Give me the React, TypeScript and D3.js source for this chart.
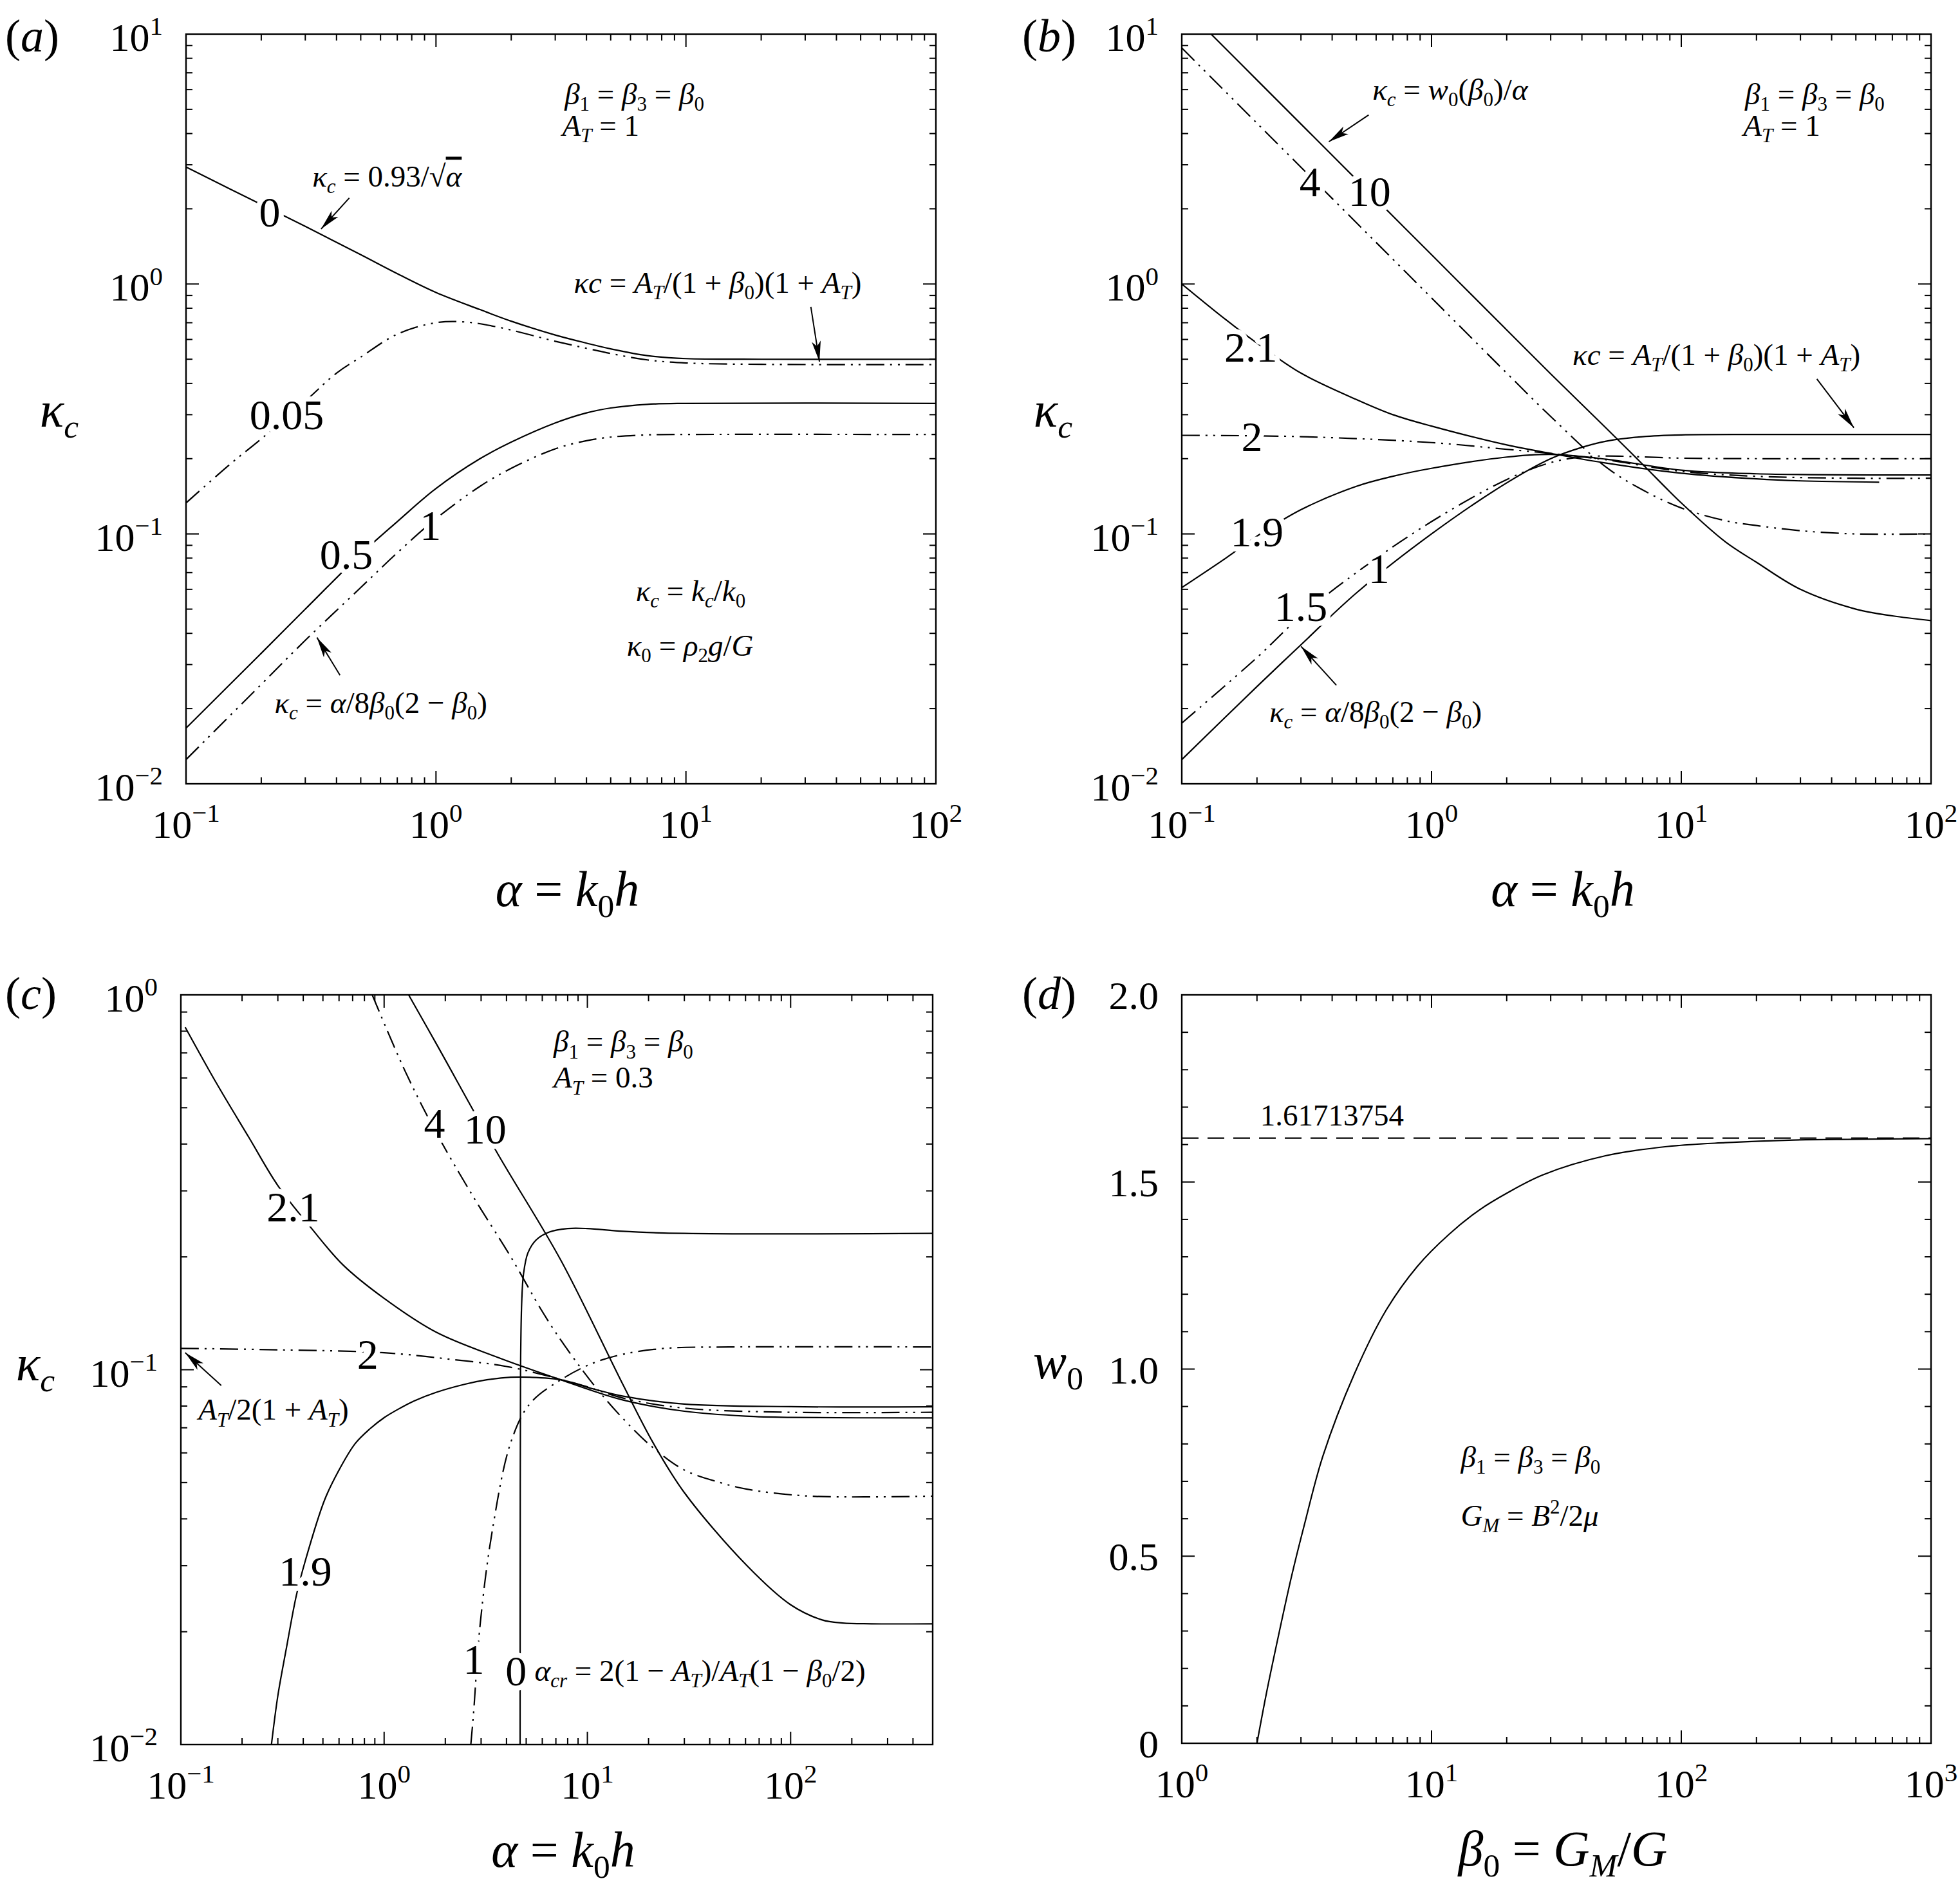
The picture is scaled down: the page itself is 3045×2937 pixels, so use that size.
import React from "react";
import * as d3 from "d3";

// ---------- values ----------

// (a) A_T = 1
const aAlphaB0 = [0.1, 0.15, 0.2, 0.3, 0.5, 0.7, 1, 1.5, 2, 3, 4, 5, 7, 10, 20, 100];
const aKappaB0 = [2.94, 2.4, 2.08, 1.7, 1.31, 1.1, 0.925, 0.79, 0.71, 0.625, 0.58, 0.55, 0.517, 0.503, 0.5, 0.5];
const aAlphaB005 = [0.1, 0.15, 0.2, 0.3, 0.4, 0.5, 0.7, 1, 1.3, 1.8, 3, 4, 5, 7, 10, 20, 100];
const aKappaB005 = [0.133, 0.19, 0.24, 0.34, 0.44, 0.51, 0.63, 0.7, 0.705, 0.67, 0.59, 0.553, 0.527, 0.497, 0.483, 0.477, 0.476];
const aAlphaB05 = [0.1, 0.2, 0.3, 0.5, 0.7, 1, 1.5, 2, 3, 4, 5, 7, 10, 100];
const aKappaB05 = [0.0167, 0.0333, 0.05, 0.083, 0.112, 0.152, 0.2, 0.233, 0.278, 0.305, 0.319, 0.33, 0.333, 0.333];
const aAlphaB1 = [0.1, 0.2, 0.3, 0.5, 0.7, 1, 1.5, 2, 3, 4, 5, 7, 10, 100];
const aKappaB1 = [0.0125, 0.025, 0.0375, 0.061, 0.084, 0.115, 0.155, 0.183, 0.219, 0.236, 0.244, 0.249, 0.25, 0.25];

// (b) A_T = 1
const bAlphaB10 = [0.131, 0.2, 0.5, 1, 2, 3, 5, 7, 10, 15, 20, 30, 50, 70, 100];
const bKappaB10 = [10, 6.55, 2.62, 1.31, 0.655, 0.437, 0.265, 0.19, 0.133, 0.093, 0.077, 0.06, 0.05, 0.047, 0.045];
const bAlphaB4 = [0.1, 0.2, 0.5, 1, 2, 3, 5, 7, 10, 15, 20, 30, 50, 100];
const bKappaB4 = [8.8, 4.4, 1.76, 0.88, 0.44, 0.295, 0.185, 0.15, 0.127, 0.113, 0.108, 0.103, 0.1, 0.1];
const bAlphaB21 = [0.1, 0.15, 0.2, 0.3, 0.5, 0.7, 1, 2, 3, 5, 10, 20, 30, 62];
const bKappaB21 = [1.0, 0.72, 0.58, 0.44, 0.345, 0.3, 0.27, 0.227, 0.21, 0.192, 0.175, 0.166, 0.163, 0.161];
const bAlphaB2 = [0.1, 0.3, 1, 2, 3, 5, 10, 20, 50, 100];
const bKappaB2 = [0.248, 0.245, 0.232, 0.218, 0.21, 0.198, 0.178, 0.17, 0.167, 0.167];
const bAlphaB19 = [0.1, 0.15, 0.2, 0.3, 0.5, 0.7, 1, 2, 3, 5, 10, 20, 100];
const bKappaB19 = [0.061, 0.08, 0.098, 0.125, 0.155, 0.17, 0.183, 0.203, 0.208, 0.199, 0.18, 0.174, 0.172];
const bAlphaB15 = [0.1, 0.2, 0.3, 0.5, 1, 2, 3, 4, 5, 10, 20, 100];
const bKappaB15 = [0.0175, 0.032, 0.047, 0.07, 0.112, 0.165, 0.193, 0.203, 0.205, 0.201, 0.2, 0.2];
const bAlphaB1 = [0.1, 0.2, 0.3, 0.5, 1, 2, 3, 4, 5, 7, 10, 20, 100];
const bKappaB1 = [0.0125, 0.0245, 0.036, 0.058, 0.1, 0.16, 0.2, 0.222, 0.235, 0.245, 0.249, 0.25, 0.25];

// (c) A_T = 0.3
const cAlphaB10 = [1.32, 1.8, 3.6, 7.4, 15, 21, 30, 61, 100, 143, 180, 250, 500];
const cKappaB10 = [1.0, 0.743, 0.379, 0.196, 0.091, 0.064, 0.047, 0.03, 0.0236, 0.0215, 0.0211, 0.021, 0.021];
const cAlphaB4 = [0.874, 1.27, 1.8, 2.75, 4.2, 6, 7.4, 10.6, 15, 21, 30, 45, 61, 124, 500];
const cKappaB4 = [1.0, 0.625, 0.43, 0.289, 0.2, 0.143, 0.12, 0.092, 0.074, 0.062, 0.054, 0.05, 0.048, 0.046, 0.046];
const cAlphaB21 = [0.105, 0.15, 0.217, 0.3, 0.44, 0.63, 1, 1.8, 3.6, 7.4, 15, 30, 60, 100, 500];
const cKappaB21 = [0.82, 0.58, 0.415, 0.31, 0.238, 0.19, 0.155, 0.126, 0.108, 0.094, 0.083, 0.0775, 0.0752, 0.0746, 0.0744];
const cAlphaB2 = [0.1, 0.3, 1, 2, 4, 7, 10, 15, 30, 100, 500];
const cKappaB2 = [0.114, 0.113, 0.111, 0.107, 0.102, 0.095, 0.09, 0.084, 0.079, 0.077, 0.077];
const cAlphaB19 = [0.279, 0.3, 0.33, 0.37, 0.41, 0.51, 0.6, 0.72, 0.85, 1, 1.2, 1.4, 1.8, 2.5, 3.2, 4.2, 5.2, 7.4, 10.6, 15, 30, 100, 500];
const cKappaB19 = [0.01, 0.0135, 0.018, 0.025, 0.031, 0.045, 0.054, 0.0635, 0.0695, 0.0745, 0.079, 0.0825, 0.087, 0.0915, 0.094, 0.0955, 0.0955, 0.094, 0.089, 0.085, 0.081, 0.0797, 0.0796];
const cAlphaB1 = [2.67, 2.75, 2.97, 3.4, 4.2, 5.2, 7.4, 10.6, 15, 24, 50, 500];
const cKappaB1 = [0.01, 0.012, 0.021, 0.037, 0.064, 0.081, 0.094, 0.104, 0.11, 0.114, 0.115, 0.115];
const cAlphaB0 = [4.667, 4.675, 4.69, 4.75, 4.85, 5.1, 5.6, 6.5, 8, 10, 15, 30, 500];
const cKappaB0 = [0.01, 0.05, 0.1, 0.15, 0.18, 0.205, 0.222, 0.233, 0.238, 0.238, 0.234, 0.231, 0.231];

// (d) w0 against beta0
const dBeta = [2, 2.184, 2.452, 2.753, 3.091, 3.675, 4.91, 6.56, 8.76, 11.7, 15.6, 20, 27.9, 49.7, 88.6, 150, 282, 500, 1000];
const dW0 = [0, 0.135, 0.295, 0.447, 0.582, 0.768, 0.987, 1.156, 1.274, 1.359, 1.426, 1.47, 1.519, 1.57, 1.595, 1.605, 1.612, 1.614, 1.616];
const W0_LIMIT = 1.61713754;

// ticks
const abXTicks = [0.1, 1, 10, 100];
const abXLabels = ["10^{−1}", "10^{0}", "10^{1}", "10^{2}"];
const abYTicks = [0.01, 0.1, 1, 10];
const abYLabels = ["10^{−2}", "10^{−1}", "10^{0}", "10^{1}"];
const cXTicks = [0.1, 1, 10, 100];
const cXLabels = ["10^{−1}", "10^{0}", "10^{1}", "10^{2}"];
const cYTicks = [0.01, 0.1, 1];
const cYLabels = ["10^{−2}", "10^{−1}", "10^{0}"];
const dXTicks = [1, 10, 100, 1000];
const dXLabels = ["10^{0}", "10^{1}", "10^{2}", "10^{3}"];
const dYTicks = [0, 0.5, 1, 1.5, 2];
const dYLabels = ["0", "0.5", "1.0", "1.5", "2.0"];

// ---------- drawing ----------

const FONT = '"Liberation Serif", "DejaVu Serif", serif';
const DDOT = "28,9,3,9,3,9";
const TICK_FS = 62;
const LABEL_FS = 66;
const NOTE_FS = 47;
const TITLE_FS = 78;

type Tok = { t: string; it: boolean; sh: number; ov: boolean };

// tiny markup: _x / _{..} subscript, ^x / ^{..} superscript, !x overline
function parseMath(s: string): Tok[] {
  const out: Tok[] = [];
  const push = (ch: string, sh: number, ov: boolean) => {
    const it = /[A-Za-z\u0370-\u03ff]/.test(ch);
    const last = out[out.length - 1];
    if (last && last.it === it && last.sh === sh && last.ov === ov) last.t += ch;
    else out.push({ t: ch, it, sh, ov });
  };
  let i = 0;
  while (i < s.length) {
    const c = s[i];
    if (c === "_" || c === "^" || c === "!") {
      const sh = c === "_" ? 1 : c === "^" ? -1 : 0;
      i++;
      let grp = "";
      if (s[i] === "{") {
        const j = s.indexOf("}", i);
        grp = s.slice(i + 1, j);
        i = j + 1;
      } else {
        grp = s[i];
        i++;
      }
      for (const ch of grp) push(ch, sh, c === "!");
    } else {
      push(c, 0, false);
      i++;
    }
  }
  return out;
}

function MathText({ x, y, text, fs, anchor = "start", halo = false }: {
  x: number; y: number; text: string; fs: number; anchor?: string; halo?: boolean;
}) {
  const toks = parseMath(text);
  let cur = 0;
  return (
    <text
      x={x}
      y={y}
      fontSize={fs}
      fontFamily={FONT}
      textAnchor={anchor}
      fill="#000"
      stroke={halo ? "#fff" : "none"}
      strokeWidth={halo ? 16 : 0}
      strokeLinejoin="round"
      style={{ whiteSpace: "pre", paintOrder: "stroke" }}
    >
      {toks.map((tk, k) => {
        const off = tk.sh === 1 ? 0.22 * fs : tk.sh === -1 ? -0.4 * fs : 0;
        const dy = off - cur;
        cur = off;
        return (
          <tspan
            key={k}
            dy={dy}
            fontSize={tk.sh ? fs * 0.66 : fs}
            fontStyle={tk.it ? "italic" : "normal"}
            textDecoration={tk.ov ? "overline" : undefined}
          >
            {tk.t}
          </tspan>
        );
      })}
    </text>
  );
}

interface Series { x: number[]; y: number[]; dash?: string }
interface Note { text: string; at: [number, number]; fs?: number }
interface CurveLabel { text: string; at: [number, number] }
interface Arrow { from: [number, number]; to: [number, number] }

interface PanelSpec {
  id: string;
  box: { l: number; r: number; t: number; b: number };
  xDomain: [number, number];
  yDomain: [number, number];
  yLog: boolean;
  xTicks: number[]; xLabels: string[];
  yTicks: number[]; yLabels: string[];
  series: Series[];
  notes: Note[];
  curveLabels: CurveLabel[];
  arrows: Arrow[];
  tag: string; tagAt: [number, number];
  xTitle: string; yTitle: string; yTitleAt: [number, number];
  hline?: number;
}

function isDecade(v: number) {
  const l = Math.log10(v);
  return Math.abs(l - Math.round(l)) < 1e-9;
}

function Panel({ p }: { p: PanelSpec }) {
  const { l, r, t, b } = p.box;
  const x = d3.scaleLog().domain(p.xDomain).range([l, r]);
  const y: any = p.yLog
    ? d3.scaleLog().domain(p.yDomain).range([b, t])
    : d3.scaleLinear().domain(p.yDomain).range([b, t]);
  const line = d3
    .line<[number, number]>()
    .x((d) => x(d[0]))
    .y((d) => y(d[1]))
    .curve(d3.curveCatmullRom.alpha(0.5));

  const xt = x.ticks();
  const yt: number[] = p.yLog ? y.ticks() : y.ticks(20);
  const yMajor = (v: number) =>
    p.yLog ? isDecade(v) : Math.abs(v * 2 - Math.round(v * 2)) < 1e-9;
  const MAJ = 20, MIN = 10;

  return (
    <g>
      <defs>
        <clipPath id={`clip-${p.id}`}>
          <rect x={l} y={t} width={r - l} height={b - t} />
        </clipPath>
      </defs>

      {/* ticks on all four sides */}
      <g stroke="#000" strokeWidth={2}>
        {xt.map((v, i) => {
          const len = isDecade(v) ? MAJ : MIN;
          const xx = x(v);
          return (
            <g key={`xt${i}`}>
              <line x1={xx} x2={xx} y1={b} y2={b - len} />
              <line x1={xx} x2={xx} y1={t} y2={t + len} />
            </g>
          );
        })}
        {yt.map((v, i) => {
          const len = yMajor(v) ? MAJ : MIN;
          const yy = y(v);
          return (
            <g key={`yt${i}`}>
              <line x1={l} x2={l + len} y1={yy} y2={yy} />
              <line x1={r} x2={r - len} y1={yy} y2={yy} />
            </g>
          );
        })}
      </g>

      {/* curves */}
      <g clipPath={`url(#clip-${p.id})`} fill="none" stroke="#000" strokeWidth={2.2}>
        {p.hline !== undefined && (
          <line x1={l} x2={r} y1={y(p.hline)} y2={y(p.hline)} strokeDasharray="26,14" />
        )}
        {p.series.map((s, i) => (
          <path
            key={i}
            d={line(d3.zip(s.x, s.y) as [number, number][]) || ""}
            strokeDasharray={s.dash}
          />
        ))}
      </g>

      {/* frame */}
      <rect x={l} y={t} width={r - l} height={b - t} fill="none" stroke="#000" strokeWidth={2.4} />

      {/* arrows */}
      <g stroke="#000" strokeWidth={2}>
        {p.arrows.map((a, i) => (
          <line
            key={i}
            x1={x(a.from[0])}
            y1={y(a.from[1])}
            x2={x(a.to[0])}
            y2={y(a.to[1])}
            markerEnd="url(#arrowhead)"
          />
        ))}
      </g>

      {/* curve labels, with white halo to break the line */}
      {p.curveLabels.map((c, i) => (
        <MathText
          key={i}
          x={x(c.at[0])}
          y={y(c.at[1]) + 0.34 * LABEL_FS}
          text={c.text}
          fs={LABEL_FS}
          anchor="middle"
          halo
        />
      ))}

      {/* annotations */}
      {p.notes.map((n, i) => (
        <MathText key={i} x={x(n.at[0])} y={y(n.at[1])} text={n.text} fs={n.fs ?? NOTE_FS} />
      ))}

      {/* tick labels */}
      {p.xTicks.map((v, i) => (
        <MathText key={`xl${i}`} x={x(v)} y={b + 84} text={p.xLabels[i]} fs={TICK_FS} anchor="middle" />
      ))}
      {p.yTicks.map((v, i) => (
        <MathText
          key={`yl${i}`}
          x={l - 36}
          y={y(v) + (p.yLog ? 26 : 22)}
          text={p.yLabels[i]}
          fs={TICK_FS}
          anchor="end"
        />
      ))}

      {/* titles */}
      <MathText x={(l + r) / 2 + 10} y={b + 190} text={p.xTitle} fs={TITLE_FS} anchor="middle" />
      <MathText x={p.yTitleAt[0]} y={p.yTitleAt[1]} text={p.yTitle} fs={TITLE_FS} anchor="middle" />
      <MathText x={p.tagAt[0]} y={p.tagAt[1]} text={p.tag} fs={72} />
    </g>
  );
}

const panels: PanelSpec[] = [
  {
    id: "a",
    box: { l: 289, r: 1454, t: 53, b: 1218 },
    xDomain: [0.1, 100],
    yDomain: [0.01, 10],
    yLog: true,
    xTicks: abXTicks, xLabels: abXLabels,
    yTicks: abYTicks, yLabels: abYLabels,
    series: [
      { x: aAlphaB0, y: aKappaB0 },
      { x: aAlphaB005, y: aKappaB005, dash: DDOT },
      { x: aAlphaB05, y: aKappaB05 },
      { x: aAlphaB1, y: aKappaB1, dash: DDOT },
    ],
    curveLabels: [
      { text: "0", at: [0.216, 1.94] },
      { text: "0.05", at: [0.253, 0.3] },
      { text: "0.5", at: [0.438, 0.0826] },
      { text: "1", at: [0.95, 0.108] },
    ],
    notes: [
      { text: "β_1 = β_3 = β_0", at: [3.27, 5.25] },
      { text: "A_T = 1", at: [3.2, 3.92] },
      { text: "κ_c = 0.93/√!α", at: [0.32, 2.46] },
      { text: "κc = A_T/(1 + β_0)(1 + A_T)", at: [3.56, 0.923] },
      { text: "κ_c = k_c/k_0", at: [6.3, 0.054] },
      { text: "κ_0 = ρ_2g/G", at: [5.8, 0.0326] },
      { text: "κ_c = α/8β_0(2 − β_0)", at: [0.226, 0.0192] },
    ],
    arrows: [
      { from: [0.45, 2.21], to: [0.347, 1.66] },
      { from: [31.6, 0.81], to: [34.2, 0.489] },
      { from: [0.413, 0.0272], to: [0.334, 0.0385] },
    ],
    tag: "(a)", tagAt: [8, 80],
    xTitle: "α = k_0h", yTitle: "κ_c", yTitleAt: [92, 663],
  },
  {
    id: "b",
    box: { l: 1836, r: 3000, t: 53, b: 1218 },
    xDomain: [0.1, 100],
    yDomain: [0.01, 10],
    yLog: true,
    xTicks: abXTicks, xLabels: abXLabels,
    yTicks: abYTicks, yLabels: abYLabels,
    series: [
      { x: bAlphaB10, y: bKappaB10 },
      { x: bAlphaB4, y: bKappaB4, dash: DDOT },
      { x: bAlphaB21, y: bKappaB21 },
      { x: bAlphaB2, y: bKappaB2, dash: DDOT },
      { x: bAlphaB19, y: bKappaB19 },
      { x: bAlphaB15, y: bKappaB15, dash: DDOT },
      { x: bAlphaB1, y: bKappaB1 },
    ],
    curveLabels: [
      { text: "4", at: [0.326, 2.56] },
      { text: "10", at: [0.565, 2.34] },
      { text: "2.1", at: [0.189, 0.558] },
      { text: "2", at: [0.191, 0.245] },
      { text: "1.9", at: [0.2, 0.102] },
      { text: "1.5", at: [0.3, 0.0513] },
      { text: "1", at: [0.616, 0.0725] },
    ],
    notes: [
      { text: "κ_c = w_0(β_0)/α", at: [0.58, 5.46] },
      { text: "β_1 = β_3 = β_0", at: [18, 5.25] },
      { text: "A_T = 1", at: [17.7, 3.92] },
      { text: "κc = A_T/(1 + β_0)(1 + A_T)", at: [3.67, 0.476] },
      { text: "κ_c = α/8β_0(2 − β_0)", at: [0.224, 0.0177] },
    ],
    arrows: [
      { from: [0.56, 4.75], to: [0.388, 3.71] },
      { from: [34.9, 0.417], to: [49.1, 0.266] },
      { from: [0.416, 0.0248], to: [0.3, 0.0355] },
    ],
    tag: "(b)", tagAt: [1588, 80],
    xTitle: "α = k_0h", yTitle: "κ_c", yTitleAt: [1636, 663],
  },
  {
    id: "c",
    box: { l: 281, r: 1449, t: 1546, b: 2711 },
    xDomain: [0.1, 500],
    yDomain: [0.01, 1],
    yLog: true,
    xTicks: cXTicks, xLabels: cXLabels,
    yTicks: cYTicks, yLabels: cYLabels,
    series: [
      { x: cAlphaB10, y: cKappaB10 },
      { x: cAlphaB4, y: cKappaB4, dash: DDOT },
      { x: cAlphaB21, y: cKappaB21 },
      { x: cAlphaB2, y: cKappaB2, dash: DDOT },
      { x: cAlphaB19, y: cKappaB19 },
      { x: cAlphaB1, y: cKappaB1, dash: DDOT },
      { x: cAlphaB0, y: cKappaB0 },
    ],
    curveLabels: [
      { text: "4", at: [1.77, 0.455] },
      { text: "10", at: [3.14, 0.438] },
      { text: "2.1", at: [0.357, 0.272] },
      { text: "2", at: [0.83, 0.11] },
      { text: "1.9", at: [0.41, 0.029] },
      { text: "1", at: [2.76, 0.0169] },
      { text: "0", at: [4.46, 0.0157] },
    ],
    notes: [
      { text: "β_1 = β_3 = β_0", at: [6.82, 0.705] },
      { text: "A_T = 0.3", at: [6.82, 0.565] },
      { text: "A_T/2(1 + A_T)", at: [0.122, 0.0735] },
      { text: "α_{cr} = 2(1 − A_T)/A_T(1 − β_0/2)", at: [5.5, 0.0148] },
    ],
    arrows: [{ from: [0.158, 0.0908], to: [0.105, 0.111] }],
    tag: "(c)", tagAt: [8, 1568],
    xTitle: "α = k_0h", yTitle: "κ_c", yTitleAt: [55, 2145],
  },
  {
    id: "d",
    box: { l: 1836, r: 3000, t: 1546, b: 2709 },
    xDomain: [1, 1000],
    yDomain: [0, 2],
    yLog: false,
    xTicks: dXTicks, xLabels: dXLabels,
    yTicks: dYTicks, yLabels: dYLabels,
    series: [{ x: dBeta, y: dW0 }],
    hline: W0_LIMIT,
    curveLabels: [],
    notes: [
      { text: "1.61713754", at: [2.06, 1.651] },
      { text: "β_1 = β_3 = β_0", at: [13.1, 0.738] },
      { text: "G_M = B^2/2μ", at: [13.1, 0.582] },
    ],
    arrows: [],
    tag: "(d)", tagAt: [1588, 1568],
    xTitle: "β_0 = G_M/G", yTitle: "w_0", yTitleAt: [1644, 2142],
  },
];

export default function App() {
  const W = 3045, H = 2937;
  return (
    <svg
      width={W}
      height={H}
      viewBox={`0 0 ${W} ${H}`}
      style={{ position: "absolute", left: 0, top: 0, background: "#fff" }}
    >
      <defs>
        <marker
          id="arrowhead"
          viewBox="0 0 32 16"
          refX={32}
          refY={8}
          markerWidth={32}
          markerHeight={16}
          markerUnits="userSpaceOnUse"
          orient="auto"
        >
          <path d="M0,1 L32,8 L0,15 L8,8 Z" fill="#000" />
        </marker>
      </defs>
      <rect width={W} height={H} fill="#fff" />
      {panels.map((p) => (
        <Panel key={p.id} p={p} />
      ))}
    </svg>
  );
}
